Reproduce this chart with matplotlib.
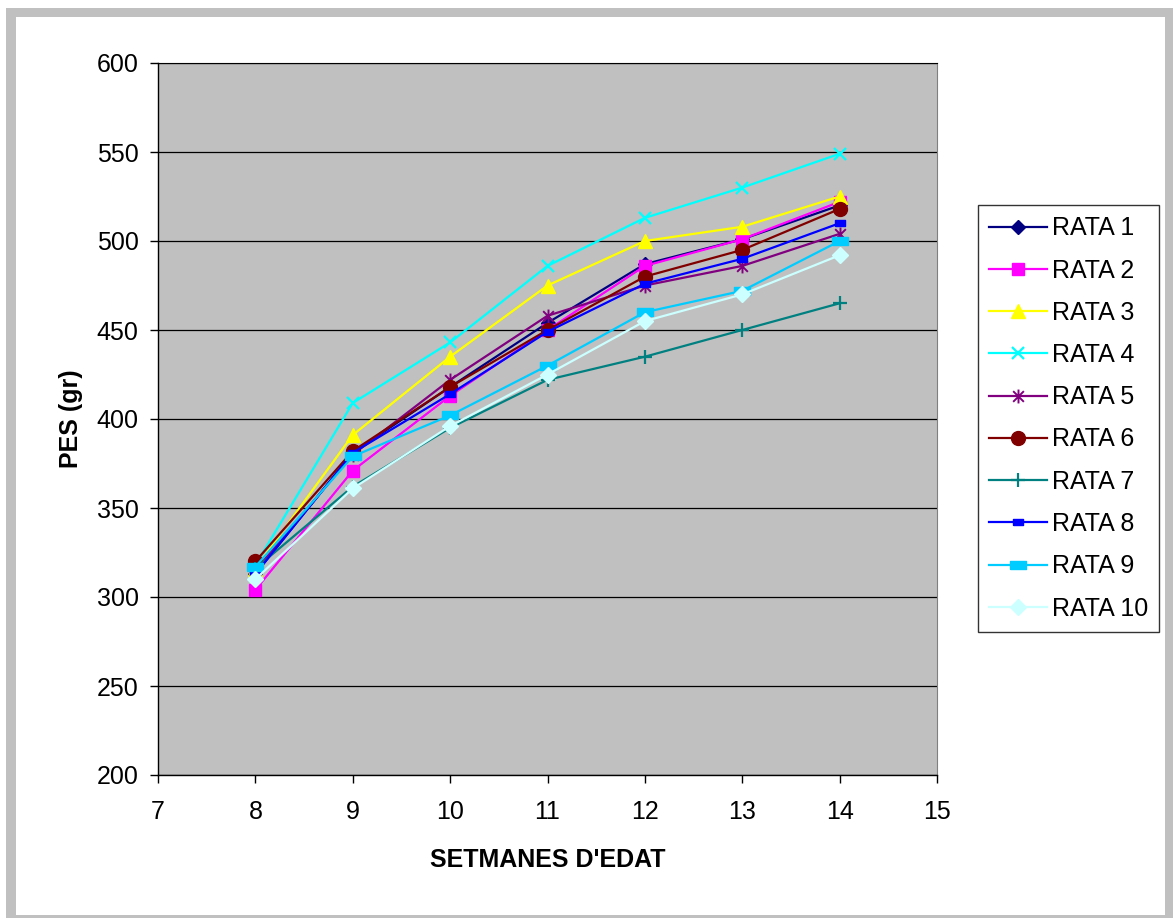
import numpy as np
import matplotlib
matplotlib.use("Agg")
import matplotlib.pyplot as plt
from matplotlib.path import Path
from matplotlib.patches import Rectangle

plt.rcParams['font.family'] = ['Liberation Sans', 'DejaVu Sans']

weeks = [8, 9, 10, 11, 12, 13, 14]

rata1 = [313, 381, 418, 454, 487, 501, 520]
rata2 = [304, 371, 413, 450, 486, 501, 522]
rata3 = [316, 391, 435, 475, 500, 508, 525]
rata4 = [318, 409, 443, 486, 513, 530, 549]
rata5 = [315, 380, 422, 458, 475, 486, 504]
rata6 = [320, 382, 418, 450, 480, 495, 518]
rata7 = [316, 362, 395, 422, 435, 450, 465]
rata8 = [313, 381, 414, 449, 476, 490, 510]
rata9 = [317, 379, 402, 430, 460, 472, 500]
rata10 = [310, 361, 396, 425, 455, 470, 492]

names = ['RATA 1', 'RATA 2', 'RATA 3', 'RATA 4', 'RATA 5',
         'RATA 6', 'RATA 7', 'RATA 8', 'RATA 9', 'RATA 10']
series = [rata1, rata2, rata3, rata4, rata5, rata6, rata7, rata8, rata9, rata10]

# asterisk = x plus a vertical bar
star = Path([(-1, -1), (1, 1), (-1, 1), (1, -1), (0, -1.3), (0, 1.3)],
            [Path.MOVETO, Path.LINETO, Path.MOVETO, Path.LINETO, Path.MOVETO, Path.LINETO])
small_rect = [(-1, -0.7), (1, -0.7), (1, 0.7), (-1, 0.7), (-1, -0.7)]
wide_rect = [(-1, -0.5), (1, -0.5), (1, 0.5), (-1, 0.5), (-1, -0.5)]

styles = [
    dict(color='#000080', marker='D', ms=7),
    dict(color='#FF00FF', marker='s', ms=9),
    dict(color='#FFFF00', marker='^', ms=10),
    dict(color='#00FFFF', marker='x', ms=9, mew=1.6),
    dict(color='#800080', marker=star, ms=10, mew=1.4),
    dict(color='#800000', marker='o', ms=10),
    dict(color='#008080', marker='+', ms=10, mew=1.6),
    dict(color='#0000FF', marker=small_rect, ms=7),
    dict(color='#00CCFF', marker=wide_rect, ms=11),
    dict(color='#CCFFFF', marker='D', ms=8),
]

fs = 18

fig = plt.figure(figsize=(11.73, 9.18), dpi=100)

# gray frame round the chart
fig.patches.append(Rectangle((6 / 1173, 0), 1.0, 1 - 8 / 918, transform=fig.transFigure,
                             facecolor='#C0C0C0', edgecolor='none', zorder=-10))
fig.patches.append(Rectangle((16 / 1173, 3 / 918), (1165 - 16) / 1173, (915 - 17) / 918,
                             transform=fig.transFigure, facecolor='white',
                             edgecolor='none', zorder=-9))

ax = fig.add_axes([158 / 1173, 1 - 775 / 918, 779 / 1173, 712 / 918])
ax.set_facecolor('#C0C0C0')

for vals, name, st in zip(series, names, styles):
    ax.plot(weeks, vals, label=name, lw=1.6, color=st['color'], marker=st['marker'],
            ms=st['ms'], mew=st.get('mew', 1), mfc=st['color'], mec=st['color'])

ax.set_xlim(7, 15)
ax.set_ylim(200, 600)
ax.set_xticks(np.arange(7, 16, 1))
ax.set_yticks(np.arange(200, 601, 50))
ax.yaxis.grid(True, color='black', lw=0.9)
ax.set_axisbelow(True)

ax.tick_params(axis='both', direction='out', length=6, width=1, labelsize=fs, pad=8)
ax.tick_params(axis='x', pad=12)
for s in ['left', 'bottom']:
    ax.spines[s].set_color('black')
    ax.spines[s].set_linewidth(1)
ax.spines['right'].set_color('#808080')
ax.spines['top'].set_color('black')

ax.set_xlabel("SETMANES D'EDAT", fontsize=fs, fontweight='bold', labelpad=17)
ax.set_ylabel('PES (gr)', fontsize=fs, fontweight='bold', labelpad=10)

leg = fig.legend(loc='upper left', bbox_to_anchor=(978 / 1173, 1 - 205 / 918),
                 fontsize=fs, frameon=True, fancybox=False, edgecolor='black',
                 handlelength=2.3, handletextpad=0.2, labelspacing=0.73,
                 borderpad=0.45, borderaxespad=0)
leg.get_frame().set_linewidth(1)

fig.savefig('out.png', dpi=100)
